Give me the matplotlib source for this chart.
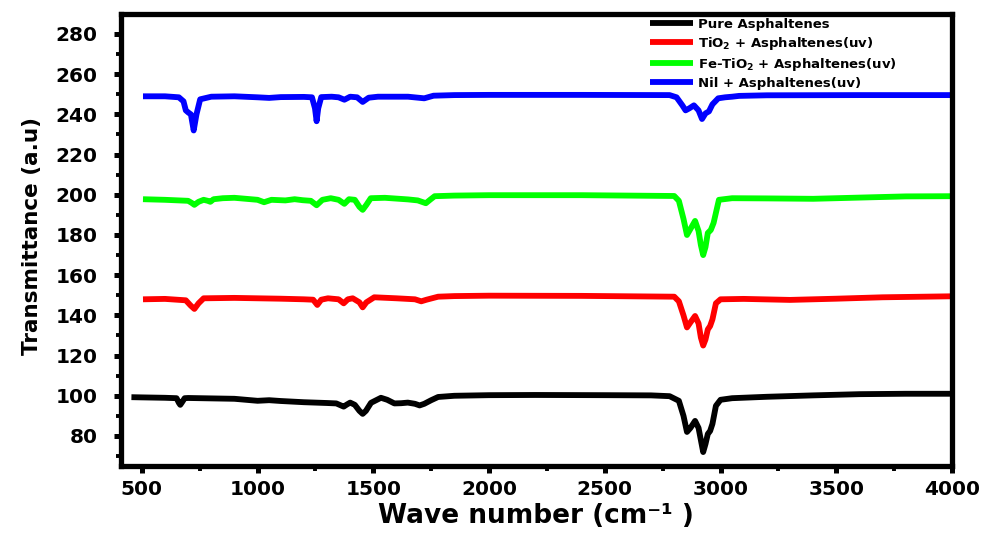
import matplotlib
matplotlib.use("Agg")
import matplotlib.pyplot as plt
from matplotlib.ticker import MultipleLocator

plt.rcParams['font.family'] = ['DejaVu Sans']
plt.rcParams['font.weight'] = 'bold'
plt.rcParams['mathtext.fontset'] = 'dejavusans'
plt.rcParams['mathtext.default'] = 'bf'

# FTIR spectra (wavenumber in cm^-1, transmittance in a.u., offset per sample)
pure_wn = [455, 500, 600, 650, 660, 666, 672, 685, 700, 800, 900, 1000, 1050, 1100, 1200,
           1300, 1340, 1360, 1372, 1385, 1400, 1420, 1440, 1454, 1468, 1490, 1533, 1560,
           1591, 1620, 1649, 1680, 1700, 1720, 1750, 1780, 1850, 2000, 2200, 2500, 2700,
           2780, 2820, 2840, 2855, 2870, 2890, 2905, 2915, 2925, 2935, 2945, 2955, 2965,
           2980, 3000, 3050, 3200, 3400, 3600, 3800, 4000]
pure_t = [99.3, 99.2, 99.0, 98.8, 96.5, 95.5, 96.5, 98.8, 98.9, 98.7, 98.5, 97.5, 97.8,
          97.4, 96.8, 96.4, 96.2, 95.2, 94.6, 95.6, 96.6, 95.5, 92.5, 91.0, 92.5, 96.5,
          99.0, 98.0, 96.2, 96.3, 96.6, 96.0, 95.2, 96.0, 97.8, 99.4, 100.0, 100.3, 100.4,
          100.3, 100.2, 99.8, 97.5, 90.0, 82.0, 84.0, 87.5, 84.0, 78.0, 72.0, 76.0, 81.0,
          82.5, 86.0, 95.0, 98.0, 98.8, 99.5, 100.2, 100.8, 101.0, 101.0]

tio2_wn = [505, 600, 690, 710, 727, 745, 767, 900, 1000, 1100, 1200, 1240, 1258, 1275,
           1304, 1350, 1372, 1390, 1411, 1440, 1454, 1470, 1504, 1600, 1680, 1707, 1730,
           1780, 1850, 2000, 2400, 2800, 2820, 2840, 2855, 2870, 2890, 2905, 2915, 2925,
           2935, 2945, 2955, 2965, 2980, 3000, 3100, 3300, 3500, 3700, 4000]
tio2_t = [148.0, 148.2, 147.5, 145.0, 143.2, 146.0, 148.5, 148.7, 148.5, 148.3, 148.0,
          147.8, 145.2, 147.8, 148.5, 148.0, 146.0, 148.0, 148.5, 146.5, 144.0, 146.5,
          149.0, 148.5, 148.0, 147.0, 147.8, 149.3, 149.6, 149.8, 149.7, 149.3, 147.0,
          140.0, 134.0, 136.5, 139.7, 136.0, 129.0, 125.0, 128.0, 133.0, 134.7, 138.0,
          146.0, 148.0, 148.2, 147.7, 148.3, 149.0, 149.5]

fetio2_wn = [505, 600, 700, 715, 727, 745, 767, 785, 796, 810, 850, 900, 1000, 1028, 1060,
             1120, 1160, 1195, 1230, 1255, 1280, 1316, 1350, 1375, 1395, 1420, 1440, 1454,
             1470, 1489, 1550, 1650, 1692, 1727, 1745, 1765, 1850, 2000, 2400, 2800, 2820,
             2840, 2855, 2870, 2890, 2905, 2915, 2925, 2935, 2945, 2958, 2970, 2993, 3050,
             3200, 3400, 3600, 3800, 4000]
fetio2_t = [197.8, 197.5, 197.0, 196.0, 195.0, 196.5, 197.5, 197.0, 196.5, 197.8, 198.3,
            198.5, 197.5, 196.3, 197.5, 197.2, 197.8, 197.3, 197.0, 194.8, 197.5, 198.3,
            197.5, 195.5, 197.8, 197.5, 194.0, 192.5, 195.0, 198.3, 198.5, 197.7, 197.2,
            195.8, 197.5, 199.3, 199.6, 199.8, 199.8, 199.4, 197.0, 188.0, 180.0, 183.0,
            187.0, 182.0, 175.0, 170.0, 174.0, 181.0, 182.5, 186.0, 197.5, 198.3, 198.2,
            198.0, 198.6, 199.2, 199.3]

nil_wn = [505, 600, 660, 680, 690, 700, 712, 724, 736, 752, 800, 900, 1000, 1050, 1100,
          1200, 1235, 1248, 1255, 1262, 1275, 1320, 1350, 1375, 1400, 1430, 1454, 1480,
          1520, 1650, 1720, 1760, 1850, 2000, 2400, 2780, 2810, 2835, 2849, 2865, 2885,
          2905, 2920, 2935, 2950, 2965, 2990, 3020, 3050, 3080, 3200, 3600, 4000]
nil_t = [249.0, 249.0, 248.5, 246.5, 242.0, 241.0, 240.0, 232.0, 240.0, 247.5, 248.8,
         249.0, 248.5, 248.2, 248.6, 248.7, 248.5, 243.0, 236.6, 243.0, 248.6, 248.8,
         248.5, 247.3, 248.8, 248.5, 246.2, 248.3, 248.8, 248.8, 248.0, 249.3, 249.6,
         249.7, 249.7, 249.6, 248.5, 244.5, 242.0, 243.0, 244.5, 242.0, 237.7, 240.5,
         241.5, 245.0, 248.0, 248.5, 248.8, 249.2, 249.5, 249.6, 249.6]

labels = ['Pure Asphaltenes',
          r'TiO$_{2}$ + Asphaltenes(uv)',
          r'Fe-TiO$_{2}$ + Asphaltenes(uv)',
          r'Nil + Asphaltenes(uv)']
colors = ['#000000', '#ff0000', '#00ff00', '#0000ff']

fig = plt.figure(figsize=(9.84, 5.33), dpi=100)
ax = fig.add_axes([0.1225, 0.1266, 0.845, 0.8462])

series = [(pure_wn, pure_t), (tio2_wn, tio2_t), (fetio2_wn, fetio2_t), (nil_wn, nil_t)]
for (wn, t), lab, c in zip(series, labels, colors):
    ax.plot(wn, t, color=c, lw=4.2, label=lab, solid_joinstyle='round',
            solid_capstyle='butt')

ax.set_xlim(408, 4000)
ax.set_ylim(65.3, 289.7)
ax.xaxis.set_major_locator(MultipleLocator(500))
ax.xaxis.set_minor_locator(MultipleLocator(250))
ax.set_yticks(range(80, 281, 20))
ax.yaxis.set_minor_locator(MultipleLocator(10))

for s in ax.spines.values():
    s.set_linewidth(3.8)
ax.tick_params(which='major', direction='out', length=5, width=3.6, labelsize=14.5)
ax.tick_params(which='minor', direction='out', length=3.6, width=2.8)
ax.tick_params(axis='x', which='major', pad=5.5)
ax.tick_params(axis='y', which='major', pad=11.5)
for lbl in ax.get_xticklabels() + ax.get_yticklabels():
    lbl.set_fontweight('bold')

ax.set_xlabel('Wave number (cm\u207b\u00b9 )', fontsize=19, fontweight='bold')
ax.xaxis.set_label_coords(0.5, -0.083)
ax.set_ylabel('Transmittance (a.u)', fontsize=15.5, fontweight='bold')
ax.yaxis.set_label_coords(-0.0944, 0.509)

leg = ax.legend(loc='upper left', bbox_to_anchor=(0.637, 0.992), frameon=False,
                prop={'size': 9.5, 'weight': 'bold'}, handlelength=3.26,
                handletextpad=0.38, labelspacing=0.3, borderpad=0,
                borderaxespad=0)
for h in leg.get_lines():
    h.set_linewidth(4.2)

fig.savefig('out.png', dpi=100)
